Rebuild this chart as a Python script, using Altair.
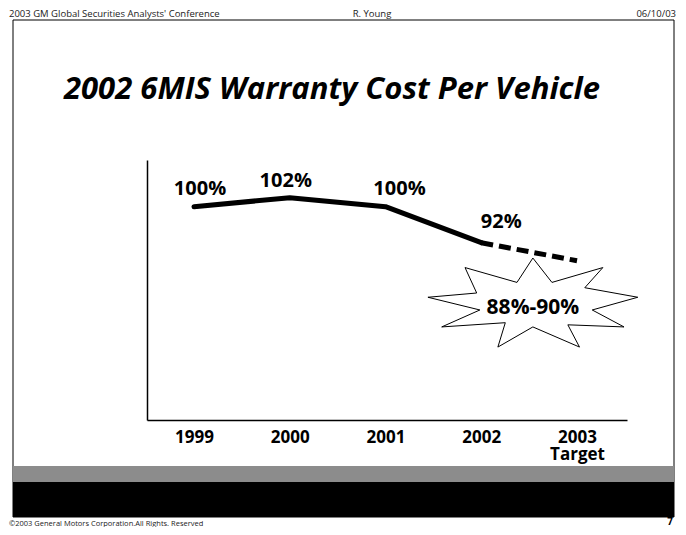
import altair as alt
import pandas as pd

# ---- data ----
years_actual = [1999, 2000, 2001, 2002]
cost_actual = [100, 102, 100, 92]
years_target = [2002, 2003]
cost_target = [92, 88]
value_labels = ["100%", "102%", "100%", "92%"]
target_label = "88%-90%"
target_pos_year = [2002.55]
target_pos_value = [78.7]
tick_years = [1999, 2000, 2001, 2002, 2003]

FONT = "Open Sans"

actual = pd.DataFrame({"year": years_actual, "cost": cost_actual, "label": value_labels})
target = pd.DataFrame({"year": years_target, "cost": cost_target})
star = pd.DataFrame({"year": target_pos_year, "cost": target_pos_value, "label": [target_label]})
one = pd.DataFrame({"a": [0]})

xs = alt.Scale(domain=[1998.509, 2003.522], nice=False, zero=False)
ys = alt.Scale(domain=[52.6, 110.38], nice=False, zero=False)

X = alt.X("year:Q", scale=xs, axis=alt.Axis(
    values=tick_years, format="d", title=None, ticks=False, grid=False,
    domainColor="black", domainWidth=1.5, zindex=1,
    labelFont=FONT, labelFontWeight="bold", labelFontSize=17, labelColor="black",
    labelPadding=9, labelLineHeight=17,
    labelExpr="datum.value == 2003 ? ['2003', 'Target'] : datum.label"))
Y = alt.Y("cost:Q", scale=ys, axis=alt.Axis(
    title=None, ticks=False, labels=False, grid=False, zindex=1,
    domainColor="black", domainWidth=1.5))

star_path = ("M -0.01 -0.42 L 0.17 -0.19 L 0.65 -0.33 L 0.48 -0.14 L 0.98 -0.05 "
             "L 0.55 0.07 L 0.85 0.23 L 0.32 0.21 L 0.43 0.42 L -0.01 0.23 "
             "L -0.34 0.42 L -0.27 0.19 L -0.87 0.23 L -0.51 0.07 L -1 -0.05 "
             "L -0.54 -0.09 L -0.65 -0.33 L -0.16 -0.19 Z")

star_layer = alt.Chart(star).mark_point(
    shape=star_path, size=44944, filled=True, fill="white", stroke="black",
    strokeWidth=1, opacity=1).encode(x=X, y=Y)
star_text = alt.Chart(star).mark_text(
    font=FONT, fontWeight="bold", fontSize=21, color="black", dy=5, dx=-1
).encode(x=X, y=Y, text="label:N")

solid = alt.Chart(actual).mark_line(
    color="black", strokeWidth=5, strokeCap="round", strokeJoin="round"
).encode(x=X, y=Y)
dashed = alt.Chart(target).mark_line(
    color="black", strokeWidth=5, strokeDash=[12, 6]
).encode(x=X, y=Y)

offsets = [(6, -18), (-4, -17), (14, -18), (20, -21)]
label_layers = []
for i, (dx, dy) in enumerate(offsets):
    label_layers.append(
        alt.Chart(actual.iloc[[i]]).mark_text(
            font=FONT, fontWeight="bold", fontSize=20, color="black", dx=dx, dy=dy
        ).encode(x=X, y=Y, text="label:N"))


def deco_text(txt, x, y, size, align="left", weight="normal", style="normal", color="black"):
    return alt.Chart(one).mark_text(
        text=txt, font=FONT, fontSize=size, align=align, baseline="middle",
        fontWeight=weight, fontStyle=style, color=color
    ).encode(x=alt.value(x), y=alt.value(y))


def deco_rect(x, x2, y, y2, fill, stroke=None):
    kw = dict(fill=fill)
    if stroke:
        kw.update(stroke=stroke, strokeWidth=1, fillOpacity=0)
    return alt.Chart(one).mark_rect(**kw).encode(
        x=alt.value(x), x2=alt.value(x2), y=alt.value(y), y2=alt.value(y2))


frame = deco_rect(-134, 527, -140, 357, "white", stroke="black")
gray_bar = deco_rect(-134, 527, 306, 322, "#8c8c8c")
black_bar = deco_rect(-134, 527, 322, 357, "black")

header_l = deco_text("2003 GM Global Securities Analysts' Conference", -138, -146, 9.5, color="#222")
header_c = deco_text("R. Young", 225, -146, 9.5, align="center", color="#222")
header_r = deco_text("06/10/03", 529, -146, 9.5, align="right", color="#222")
title = deco_text("2002 6MIS Warranty Cost Per Vehicle", 185, -70, 31, align="center",
                  weight="bold", style="italic")
footer_l = deco_text("©2003 General Motors Corporation.All  Rights. Reserved", -138, 364, 7.5, color="#222")
footer_r = deco_text("7", 526, 362, 10, align="right", weight="bold")

chart = alt.layer(
    frame, gray_bar, black_bar, header_l, header_c, header_r, title, footer_l, footer_r,
    star_layer, solid, dashed, *label_layers, star_text
).properties(
    width=480, height=260,
    autosize=alt.AutoSizeParams(type="none"),
    padding={"left": 139, "top": 152, "right": 51, "bottom": 107},
    background="white",
).configure_view(strokeWidth=0)

chart.save("out.html", embed_options={"renderer": "svg", "actions": False})
